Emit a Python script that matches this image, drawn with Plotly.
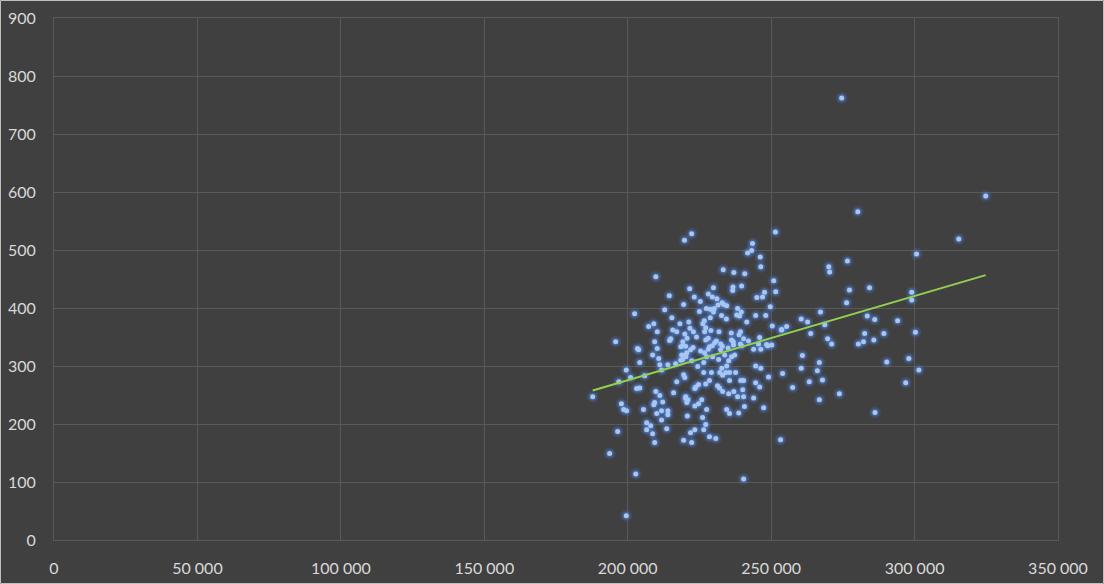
import numpy as np
import plotly.graph_objects as go

x_vals = [
    187800, 193700, 199500, 202800, 240400, 274600, 280200, 324800, 315400, 251500,
    300700, 299000, 299000, 294100, 289300, 300300, 290300, 298000, 301500, 296900, 286200,
    276600, 270100, 270400, 277300, 284300, 276300, 267200, 260500, 262700, 253700,
    255400, 268700, 283500, 286100, 263800, 269700, 271100, 282600, 280400, 282200,
    285800, 260900, 266800, 254000, 260500, 266100, 267900, 263300, 257500, 273800, 266800,
    219800, 222300, 243500, 241800, 243200, 246200, 246400, 233300, 237000, 240800,
    250900, 251600, 239700, 236700, 236600, 229900, 221600, 223200, 228100, 229500,
    231100, 232900, 225300, 219500, 245000, 247000, 247700, 249700, 233500, 234500,
    238300, 230200, 227400, 228800, 225000, 229900, 231500, 239600, 238000, 239000,
    232700, 228800, 234400, 244600, 248100, 226700, 241500, 226200, 218200, 221300,
    250400, 253600, 221700, 222900, 227200, 226800, 229000, 231800, 236100, 239300,
    238800, 240400, 219900, 224000, 220700, 219200, 227200, 228100, 230900, 236200,
    236800, 242100, 246000, 245600, 248400, 220200, 229500, 232400, 239700, 235000,
    228100, 233000, 222800,
    209800, 214500, 212900, 202400, 215400, 209100, 207300, 210300, 215700, 217100,
    215000, 214600, 195800, 209400, 218500, 203400, 210300,
    203800, 208700, 210800, 204200, 211200, 214000, 211800, 216700, 218500, 220300,
    218800, 199500, 196900, 201000, 205900, 219900, 217100, 203100, 204200, 209800,
    216000, 211200, 220200, 221000, 209400, 212200, 209100, 197800, 198600, 199600,
    205500, 211800, 210100, 214000, 214000, 211800, 220800, 206600, 208000, 206600,
    208700, 213600, 196500, 209400, 219500,
    219200, 219900, 220600, 221900, 219100, 222300, 224400, 225400, 226800, 226500,
    228500, 230300, 229600, 227500, 232400, 233800, 231700, 235200, 234500, 236200,
    237300, 236900, 239300, 243900, 246400, 248800, 250200, 232800, 232100, 234200,
    233100, 229200, 226500, 235500, 237600, 244600, 246400, 249100, 219500, 223700,
    223400, 224700, 227200, 228500, 231300, 232000, 235500, 233100, 235200, 237000,
    239400, 240400, 240100, 238300, 240400, 244600, 246000, 243900, 247400, 240700,
    234500, 235500, 238700, 220200, 220600, 225800, 223400, 224700, 227500, 226100,
    227200, 226500, 223400, 221900, 228500, 230700, 222300, 253300,
]
y_vals = [
    247, 149, 42, 114, 105, 762, 566, 593, 519, 531,
    493, 427, 414, 378, 356, 358, 307, 313, 293, 271, 220,
    481, 471, 462, 431, 435, 409, 393, 381, 376, 363,
    368, 371, 386, 380, 356, 347, 338, 356, 338, 342,
    345, 318, 306, 287, 296, 292, 276, 273, 263, 252, 242,
    517, 528, 511, 495, 499, 488, 471, 466, 461, 459,
    447, 428, 438, 436, 430, 435, 433, 419, 424, 419,
    416, 409, 411, 406, 418, 419, 427, 402, 406, 404,
    399, 399, 399, 398, 394, 393, 405, 393, 388, 386,
    387, 383, 381, 387, 387, 378, 376, 373, 373, 376,
    369, 362, 365, 359, 366, 359, 361, 359, 357, 359,
    354, 347, 355, 350, 348, 342, 345, 348, 343, 345,
    342, 343, 349, 338, 337, 334, 335, 338, 335, 331,
    329, 334, 332,
    454, 421, 397, 390, 383, 373, 368, 359, 362, 359,
    347, 344, 342, 342, 333, 330, 330,
    328, 319, 313, 306, 302, 302, 293, 304, 310, 316,
    319, 293, 273, 280, 283, 280, 273, 261, 262, 256,
    254, 249, 247, 242, 237, 238, 233, 235, 225, 223,
    225, 223, 218, 223, 216, 207, 214, 202, 197, 190,
    183, 192, 187, 168, 172,
    335, 319, 323, 328, 311, 309, 299, 326, 323, 306,
    333, 340, 316, 316, 328, 319, 311, 309, 300, 316,
    319, 336, 338, 329, 329, 335, 336, 296, 289, 289,
    284, 289, 289, 289, 289, 300, 296, 281, 285, 264,
    261, 268, 269, 275, 266, 262, 275, 256, 252, 256,
    275, 275, 259, 247, 247, 271, 264, 245, 228, 230,
    225, 218, 219, 244, 237, 242, 231, 235, 225, 211,
    199, 190, 190, 185, 178, 175, 168, 173,
]

x_ticks = [0, 50000, 100000, 150000, 200000, 250000, 300000, 350000]
y_ticks = [0, 100, 200, 300, 400, 500, 600, 700, 800, 900]

xa = np.array(x_vals, dtype=float)
ya = np.array(y_vals, dtype=float)
slope, intercept = np.polyfit(xa, ya, 1)
tx = np.array([xa.min(), xa.max()])
ty = slope * tx + intercept

fig = go.Figure()
fig.add_trace(go.Scatter(x=x_vals, y=y_vals, mode="markers",
                         marker=dict(size=12, color="rgba(70,120,210,0.2)", line=dict(width=0)),
                         hoverinfo="skip", showlegend=False))
fig.add_trace(go.Scatter(x=x_vals, y=y_vals, mode="markers",
                         marker=dict(size=8, color="rgba(80,130,220,0.4)", line=dict(width=0)),
                         hoverinfo="skip", showlegend=False))
fig.add_trace(go.Scatter(x=x_vals, y=y_vals, mode="markers",
                         marker=dict(size=5, color="#a9c6ee", line=dict(width=0)),
                         showlegend=False))
fig.add_trace(go.Scatter(x=tx, y=ty, mode="lines",
                         line=dict(color="#92d050", width=2), showlegend=False))

W, H = 1104, 584
ml, mr, mt, mb = 54, 46, 18, 44
pw, ph = W - ml - mr, H - mt - mb

fig.update_layout(
    width=W, height=H,
    margin=dict(l=ml, r=mr, t=mt, b=mb, pad=0),
    paper_bgcolor="#404040", plot_bgcolor="#404040",
    separators=". ",
    font=dict(family="Lato", size=16, color="#d9d9d9"),
    xaxis=dict(range=[0, 350000], tickvals=x_ticks, tickformat=",d", automargin=False,
               showgrid=True, gridcolor="#595959", gridwidth=1,
               zeroline=False, showline=True, mirror=True, linecolor="#595959", linewidth=1,
               ticks="", ticklabelstandoff=14),
    yaxis=dict(range=[0, 900], tickvals=y_ticks, automargin=False,
               showgrid=True, gridcolor="#595959", gridwidth=1,
               zeroline=False, showline=True, mirror=True, linecolor="#595959", linewidth=1,
               ticks="", ticklabelstandoff=14),
    shapes=[dict(type="rect", xref="paper", yref="paper",
                 x0=(-ml + 0.5) / pw, x1=(W - ml - 0.5) / pw,
                 y0=(-mb + 0.5) / ph, y1=(H - mb - 0.5) / ph,
                 line=dict(color="#bfbfbf", width=1), layer="above")],
)

fig.write_html("out.html")
